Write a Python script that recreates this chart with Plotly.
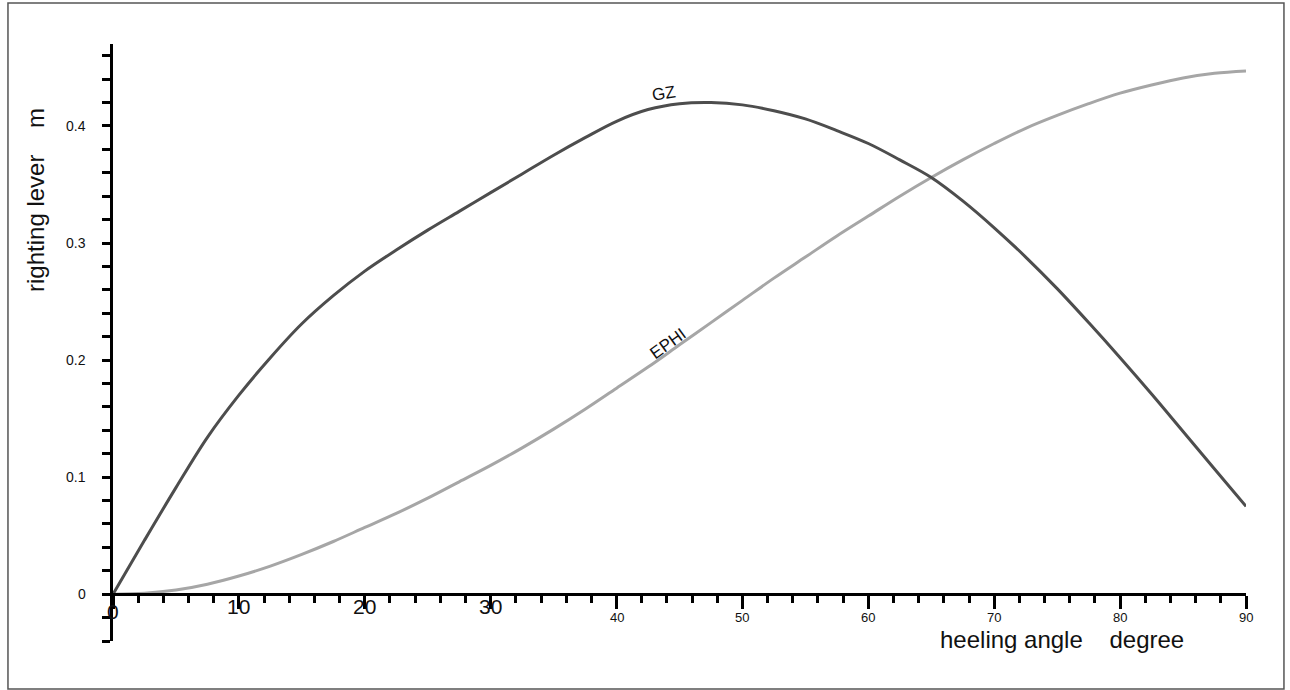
import plotly.graph_objects as go

# ---- data ----
heel_deg = [0, 2.5, 5, 7.5, 10, 12.5, 15, 17.5, 20, 22.5, 25, 27.5, 30, 32.5, 35, 37.5,
            40, 42.5, 45, 47.5, 50, 52.5, 55, 57.5, 60, 62.5, 65, 67.5, 70, 72.5, 75,
            77.5, 80, 82.5, 85, 87.5, 90]
gz_m = [0.000, 0.046, 0.091, 0.134, 0.170, 0.202, 0.231, 0.255, 0.276, 0.294, 0.311,
        0.327, 0.343, 0.359, 0.375, 0.390, 0.404, 0.414, 0.419, 0.420, 0.418, 0.413,
        0.406, 0.396, 0.385, 0.371, 0.356, 0.336, 0.313, 0.288, 0.261, 0.232, 0.202,
        0.171, 0.139, 0.107, 0.075]
ephi_m = [0.000, 0.0008, 0.0035, 0.0085, 0.0155, 0.024, 0.034, 0.045, 0.057, 0.069, 0.082,
          0.096, 0.110, 0.125, 0.141, 0.158, 0.176, 0.194, 0.213, 0.232, 0.251, 0.270,
          0.288, 0.306, 0.323, 0.340, 0.356, 0.371, 0.385, 0.398, 0.409, 0.419, 0.428,
          0.435, 0.441, 0.445, 0.447]

x_tick_vals = [0, 10, 20, 30, 40, 50, 60, 70, 80, 90]
x_tick_text = ["0", "10", "20", "30", "40", "50", "60", "70", "80", "90"]
y_tick_vals = [0, 0.1, 0.2, 0.3, 0.4]
y_tick_text = ["0", "0.1", "0.2", "0.3", "0.4"]

curve_labels = ["GZ", "EPHI"]
label_pos_deg = [43.8, 44.1]
label_pos_val = [0.4278, 0.2145]

FONT = "Liberation Sans, Arial, sans-serif"

fig = go.Figure()
fig.add_trace(go.Scatter(x=heel_deg, y=ephi_m, mode="lines", name="EPHI",
                         line=dict(color="#a6a6a6", width=3, shape="spline", smoothing=1.0),
                         hoverinfo="skip"))
fig.add_trace(go.Scatter(x=heel_deg, y=gz_m, mode="lines", name="GZ",
                         line=dict(color="#4d4d4d", width=3, shape="spline", smoothing=1.0),
                         hoverinfo="skip"))

annotations = []
# x tick labels
for v, t in zip(x_tick_vals, x_tick_text):
    big = v <= 30
    annotations.append(dict(
        x=v, y=0, xref="x", yref="y", text=t, showarrow=False,
        xanchor="center", yanchor="middle",
        yshift=(-17 if v == 0 else -12) if big else -23,
        font=dict(family=FONT, size=21 if big else 13, color="#111")))
# y tick labels
for v, t in zip(y_tick_vals, y_tick_text):
    annotations.append(dict(
        x=-0.0221, y=v, xref="paper", yref="y", text=t, showarrow=False,
        xanchor="right", yanchor="middle",
        font=dict(family=FONT, size=14, color="#111")))
# curve labels
angles = [-9, -36]
for lab, xd, yd, ang in zip(curve_labels, label_pos_deg, label_pos_val, angles):
    annotations.append(dict(
        x=xd, y=yd, xref="x", yref="y", text=lab, showarrow=False,
        textangle=ang, xanchor="center", yanchor="middle",
        font=dict(family=FONT, size=17, color="#111")))
# axis titles
annotations.append(dict(
    x=0.8376, y=0.0017, xref="paper", yref="paper",
    text="heeling angle\u00a0\u00a0\u00a0\u00a0degree", showarrow=False,
    xanchor="center", yanchor="middle",
    font=dict(family=FONT, size=24, color="#111")))
annotations.append(dict(
    x=-0.068, y=0.7387, xref="paper", yref="paper",
    text="righting lever\u00a0\u00a0\u00a0\u00a0m", showarrow=False, textangle=-90,
    xanchor="center", yanchor="middle",
    font=dict(family=FONT, size=24, color="#111")))

fig.update_layout(
    width=1290, height=690,
    margin=dict(l=113, r=44, t=44, b=49),
    paper_bgcolor="white", plot_bgcolor="white",
    showlegend=False,
    annotations=annotations,
    shapes=[dict(type="rect", xref="paper", yref="paper",
                 x0=-0.0927, x1=1.0335, y0=-0.0804, y1=1.0687,
                 line=dict(color="#555", width=1.5), fillcolor="rgba(0,0,0,0)",
                 layer="below")],
    xaxis=dict(range=[0, 90], anchor="free", position=0.04 / 0.51,
               showgrid=False, zeroline=False,
               showline=True, linecolor="black", linewidth=2.5,
               tickmode="array", tickvals=x_tick_vals, showticklabels=False,
               ticks="outside", ticklen=13, tickwidth=2.5, tickcolor="black",
               minor=dict(dtick=2, ticks="outside", ticklen=7, tickwidth=2.5,
                          tickcolor="black", showgrid=False)),
    yaxis=dict(range=[-0.04, 0.47], showgrid=False, zeroline=False,
               showline=True, linecolor="black", linewidth=2.5,
               tickmode="linear", tick0=-0.04, dtick=0.02, showticklabels=False,
               ticks="outside", ticklen=8, tickwidth=2.5, tickcolor="black"),
)

fig.write_html("out.html",
               config={"displayModeBar": False},
               post_script="document.body.style.margin='0px';document.body.style.overflow='hidden';")
